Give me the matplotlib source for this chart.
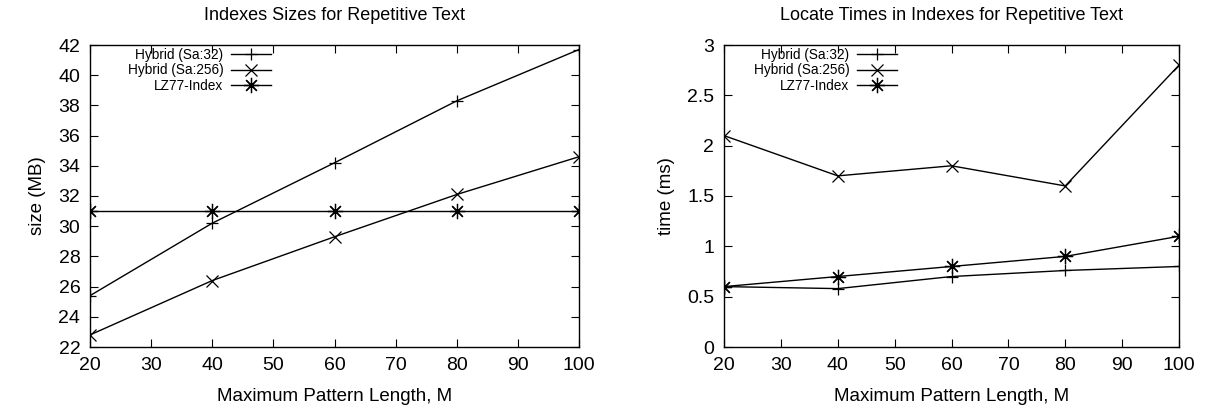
import matplotlib
matplotlib.use("Agg")
from matplotlib import pyplot as plt

plt.rcParams['font.family'] = ['Liberation Sans', 'DejaVu Sans']

M = [20, 40, 60, 80, 100]
names = ['Hybrid (Sa:32)', 'Hybrid (Sa:256)', 'LZ77-Index']

size_sa32 = [25.4, 30.2, 34.2, 38.3, 41.7]
size_sa256 = [22.8, 26.4, 29.3, 32.1, 34.6]
size_lz77 = [31.0, 31.0, 31.0, 31.0, 31.0]

time_sa32 = [0.6, 0.58, 0.7, 0.76, 0.8]
time_sa256 = [2.1, 1.7, 1.8, 1.6, 2.8]
time_lz77 = [0.6, 0.7, 0.8, 0.9, 1.1]

markers = ['+', 'x', (8, 2, 0)]
msizes = [9, 9, 11]

fig = plt.figure(figsize=(12.28, 4.13), dpi=100)
W, H = 1228, 413
ax1 = fig.add_axes([90 / W, (H - 347) / H, 489 / W, 302 / H])
ax2 = fig.add_axes([724 / W, (H - 347) / H, 455 / W, 302 / H])


def draw(ax, series, title, ylabel, ylim, yticks, ytl, leg_x):
    for vals, name, mk, ms in zip(series, names, markers, msizes):
        ax.plot(M, vals, color='black', lw=1.0, marker=mk, markersize=ms,
                markeredgewidth=0.9, label=name)
    ax.set_xlim(20, 100)
    ax.set_ylim(*ylim)
    ax.set_xticks(range(20, 101, 10))
    ax.set_yticks(yticks)
    ax.set_yticklabels(ytl)
    ax.tick_params(direction='in', top=True, right=True, length=6, width=0.8,
                   labelsize=14, pad=7)
    for s in ax.spines.values():
        s.set_linewidth(1.0)
    ax.set_title(title, fontsize=13, pad=18)
    ax.set_xlabel('Maximum Pattern Length, M', fontsize=13.5, labelpad=10)
    ax.set_ylabel(ylabel, fontsize=13.5, labelpad=9)
    ax.legend(loc='upper right', bbox_to_anchor=(leg_x, 0.99), frameon=False,
              markerfirst=False, fontsize=9.8, handlelength=2.9,
              handletextpad=0.6, labelspacing=0.1, borderpad=0,
              borderaxespad=0)


draw(ax1, [size_sa32, size_sa256, size_lz77], 'Indexes Sizes for Repetitive Text',
     'size (MB)', (22, 42), list(range(22, 43, 2)),
     [str(v) for v in range(22, 43, 2)], 0.37)
draw(ax2, [time_sa32, time_sa256, time_lz77], 'Locate Times in Indexes for Repetitive Text',
     'time (ms)', (0, 3), [0, 0.5, 1, 1.5, 2, 2.5, 3],
     ['0', '0.5', '1', '1.5', '2', '2.5', '3'], 0.38)

fig.savefig('out.png', dpi=100)
